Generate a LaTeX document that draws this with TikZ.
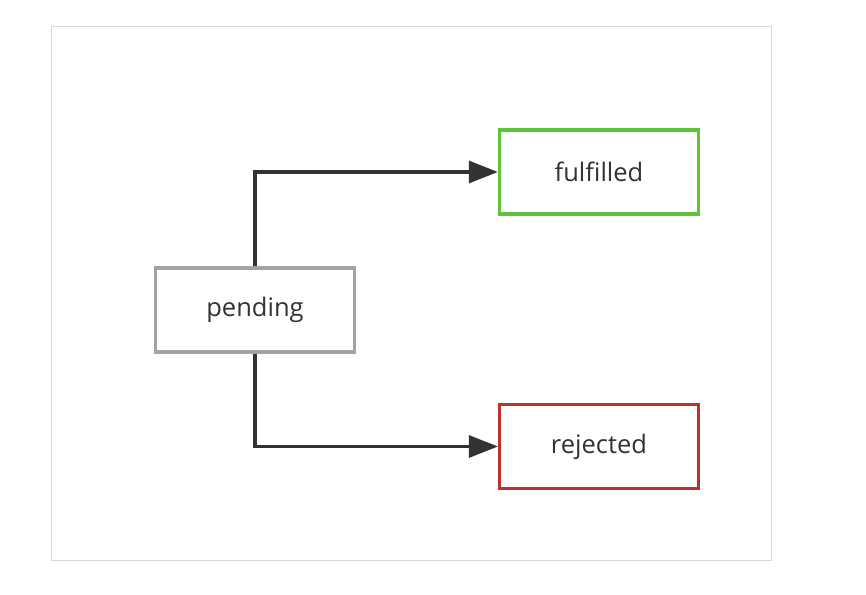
\documentclass[tikz,border=0pt]{standalone}
\usepackage{fontspec}
\setmainfont{Open Sans}
\usetikzlibrary{arrows.meta}
\definecolor{framegray}{HTML}{D6D6D6}
\definecolor{boxgray}{HTML}{A3A3A3}
\definecolor{boxgreen}{HTML}{5CC43A}
\definecolor{boxred}{HTML}{C0302A}
\definecolor{linegray}{HTML}{333333}
\begin{document}
\begin{tikzpicture}[x=1pt, y=-1pt,
    state/.style={draw, line width=3.2pt, minimum width=199pt, minimum height=84pt, inner sep=0pt, text=linegray, font=\fontsize{25.5}{30}\selectfont},
    flow/.style={draw=linegray, line width=3.2pt, -{Triangle[length=29pt, width=22pt]}}]
        \useasboundingbox (0,0) rectangle (866,594);
        \draw[framegray, line width=1pt] (51,27) rectangle (771,560);
        \node [state, draw=boxgray, anchor=center] (pending) at (255,310) {pending};
        \node [state, draw=boxgreen, anchor=center] (fulfilled) at (599,172) {fulfilled};
        \node [state, draw=boxred, anchor=center] (rejected) at (599,446.5) {rejected};
        \draw[flow] (pending.north) |- (fulfilled.west);
        \draw[flow] (pending.south) |- (rejected.west);
    \end{tikzpicture}
\end{document}
